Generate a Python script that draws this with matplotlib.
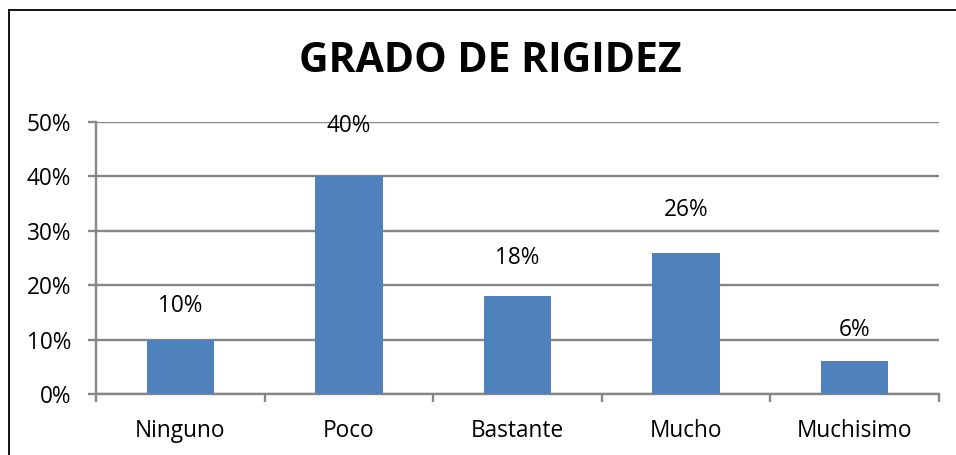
import matplotlib
matplotlib.use("Agg")
import matplotlib.pyplot as plt
from matplotlib.lines import Line2D
import numpy as np

categories = ["Ninguno", "Poco", "Bastante", "Mucho", "Muchisimo"]
values = [10, 40, 18, 26, 6]
yticks = [0, 10, 20, 30, 40, 50]
ytick_labels = ["0%", "10%", "20%", "30%", "40%", "50%"]
title = "GRADO DE RIGIDEZ"

plt.rcParams['font.family'] = ['Open Sans', 'DejaVu Sans']

W, H = 956, 455
fig = plt.figure(figsize=(W / 100, H / 100), dpi=100)
ax = fig.add_axes([96 / W, 1 - 394 / H, (939 - 96) / W, (394 - 122) / H])

grid_c = "#868686"
x = np.arange(len(categories))
ax.bar(x, values, width=0.4, color="#4F81BD", zorder=3)

ax.set_xlim(-0.5, len(categories) - 0.5)
ax.set_ylim(0, 50)
ax.set_yticks(yticks)
ax.set_yticklabels(ytick_labels)
ax.set_xticks(x)
ax.set_xticklabels(categories)
ax.set_xticks(np.arange(-0.5, len(categories)), minor=True)

ax.grid(axis="y", color=grid_c, linewidth=1.7, zorder=0)
for s in ["top", "right"]:
    ax.spines[s].set_visible(False)
for s in ["left", "bottom"]:
    ax.spines[s].set_color(grid_c)
    ax.spines[s].set_linewidth(1.7)

fs = 16.3
ax.tick_params(axis="y", length=6, width=1.7, color=grid_c, pad=12,
               labelsize=fs, labelcolor="black")
ax.tick_params(axis="x", which="major", length=0, pad=18,
               labelsize=fs, labelcolor="black")
ax.tick_params(axis="x", which="minor", length=6, width=1.7, color=grid_c)

for xi, v in zip(x, values):
    ax.text(xi, v * 1.1 + 3.0, f"{v}%", ha="center", va="bottom",
            fontsize=fs, color="black", zorder=4)

fig.text(490 / W, 1 - 62 / H, title, ha="center", va="center",
         fontsize=29.5, fontweight="bold", color="black")

# outer frame (left and top edges visible)
fig.add_artist(Line2D([8.5 / W, 8.5 / W], [0, 1 - 10 / H], color="black",
                      linewidth=1.3, transform=fig.transFigure))
fig.add_artist(Line2D([8.5 / W, 1], [1 - 10 / H, 1 - 10 / H], color="black",
                      linewidth=1.3, transform=fig.transFigure))

fig.savefig("out.png", dpi=100)
